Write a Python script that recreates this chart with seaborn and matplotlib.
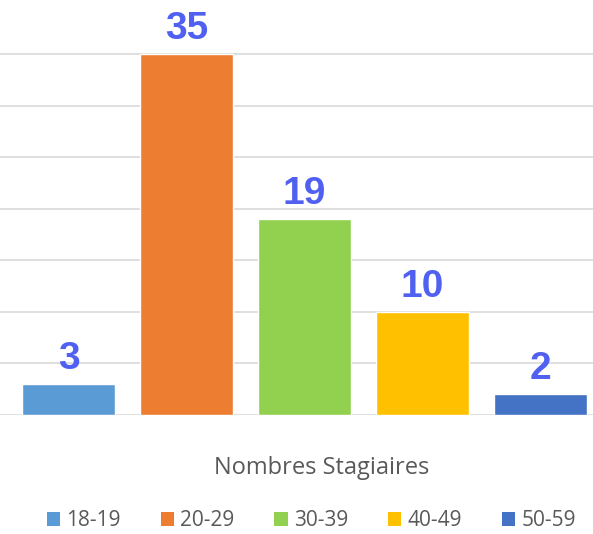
import pandas as pd
import matplotlib
matplotlib.use('Agg')
import matplotlib.pyplot as plt
from matplotlib.patches import Patch
import seaborn as sns

# tranches d'age et effectifs
ages = ['18-19', '20-29', '30-39', '40-49', '50-59']
stagiaires = [3, 35, 19, 10, 2]
couleurs = ['#5B9BD5', '#ED7D31', '#92D050', '#FFC000', '#4472C4']
xlabel = 'Nombres Stagiaires'

sns.set_style('white')
plt.rcParams['font.family'] = ['Open Sans', 'DejaVu Sans']

df = pd.DataFrame({'age': ages, 'n': stagiaires})

fig = plt.figure(figsize=(5.93, 5.34), dpi=100)
ax = fig.add_axes([0, 1 - 415 / 534, 1, 415 / 534])

sns.barplot(data=df, x='age', y='n', hue='age', palette=couleurs,
            width=0.79, legend=False, ax=ax, saturation=1)

for c in ax.containers:
    ax.bar_label(c, padding=5, fontsize=28, fontweight='bold',
                 color='#5060F0', family='Liberation Sans')

ax.set_ylim(0, 415 / 10.314)
ax.set_xlim(-0.58, 4.445)
ax.set_yticks(range(0, 40, 5))
ax.yaxis.grid(True, color='#d9d9d9', linewidth=1.2)
ax.set_axisbelow(True)
ax.set_xticks([])
ax.set_yticklabels([])
ax.tick_params(left=False, bottom=False)
ax.set_xlabel('')
ax.set_ylabel('')
sns.despine(ax=ax, left=True, bottom=True)

fig.text(0.542, 1 - 468 / 534, xlabel, ha='center', va='center',
         fontsize=17, color='#595959')

handles = [Patch(facecolor=c, edgecolor='none', label=a) for c, a in zip(couleurs, ages)]
fig.legend(handles=handles, loc='center', bbox_to_anchor=(0.525, 1 - 521 / 534),
           ncol=5, frameon=False, fontsize=15, labelcolor='#595959',
           handlelength=0.65, handleheight=0.65, handletextpad=0.3,
           columnspacing=1.9)

fig.savefig('out.png', dpi=100)
